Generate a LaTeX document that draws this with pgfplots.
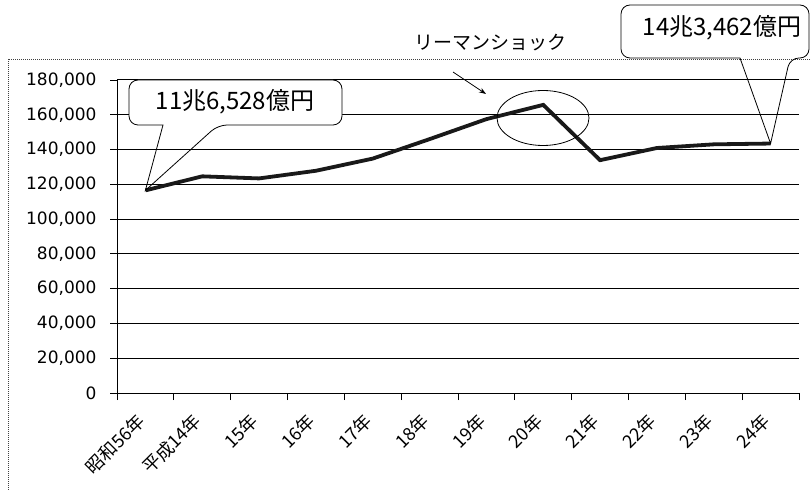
\documentclass[border=0pt]{standalone}
\usepackage{fontspec}
\setmainfont{DejaVu Sans}
\newfontfamily\jp{Noto Sans CJK JP}
\usepackage{pgfplots}
\pgfplotsset{compat=1.18}
\usetikzlibrary{arrows.meta}
\begin{document}
\begin{tikzpicture}[x=1pt,y=1pt]
\useasboundingbox (0,0) rectangle (811,490);
\draw[line width=0.7pt, dash pattern=on 1pt off 1pt, black!75] (8,431) rectangle (818,-8);
\begin{axis}[
  at={(117pt,97pt)}, anchor=south west,
  scale only axis, width=682pt, height=313pt,
  xmin=-0.5, xmax=11.5, ymin=0, ymax=180000,
  ytick={0,20000,...,180000},
  xtick={0,...,11},
  xticklabels={昭和56年,平成14年,15年,16年,17年,18年,19年,20年,21年,22年,23年,24年},
  minor xtick={-0.5,0.5,...,11.5},
  ymajorgrids, grid style={black, line width=1pt},
  axis x line*=bottom, axis y line*=left,
  axis line style={black, line width=1pt, -},
  tick align=outside,
  major tick length=7pt, minor tick length=7pt,
  major x tick style={draw=none},
  tick style={black, line width=0.9pt},
  scaled y ticks=false,
  /pgf/number format/assume math mode=true,
  /pgf/number format/1000 sep={,},
  yticklabel style={font=\fontsize{17}{20}\selectfont, /pgf/number format/fixed, xshift=-10pt},
  xticklabel style={font=\jp\fontsize{18}{21}\selectfont, xshift=-3.5pt, yshift=-17pt, rotate=45, anchor=east, inner sep=1pt},
  clip=false,
]
\addplot[black!90, line width=3.8pt] coordinates {
(0,116528) (1,124600) (2,123400) (3,127800) (4,134800) (5,146000)
(6,157500) (7,165700) (8,133900) (9,140900) (10,143000) (11,143462)
};
\coordinate (p0) at (axis cs:0,116528);
\coordinate (p11) at (axis cs:11,143462);
\end{axis}
% callout 1
\fill[white, rounded corners=9pt] (129,365) rectangle (342,410);
\draw[line width=0.8pt, rounded corners=9pt] (163,365) -- (129,365) -- (129,410) -- (342,410) -- (342,365) -- (218,365) [sharp corners] -- (p0) -- cycle;
\node[font=\jp\fontsize{24}{27}\selectfont] at (235,388) {11兆6,528億円};
% callout 2
\fill[white, rounded corners=9pt] (621,432) rectangle (809,485);
\draw[line width=0.8pt, rounded corners=9pt] (740,432) -- (621,432) -- (621,485) -- (809,485) -- (809,432) -- (790,432) [sharp corners] -- (p11) -- cycle;
\node[font=\jp\fontsize{24}{27}\selectfont] at (722,462) {14兆3,462億円};
% Lehman shock
\node[font=\jp\fontsize{19}{22}\selectfont] at (490,447) {リーマンショック};
\draw[line width=0.8pt, -{Stealth[length=7pt,width=5pt]}] (453,418) -- (486,396);
\draw[line width=0.8pt] (543,372) ellipse [x radius=46, y radius=27.5];
\end{tikzpicture}
\end{document}
